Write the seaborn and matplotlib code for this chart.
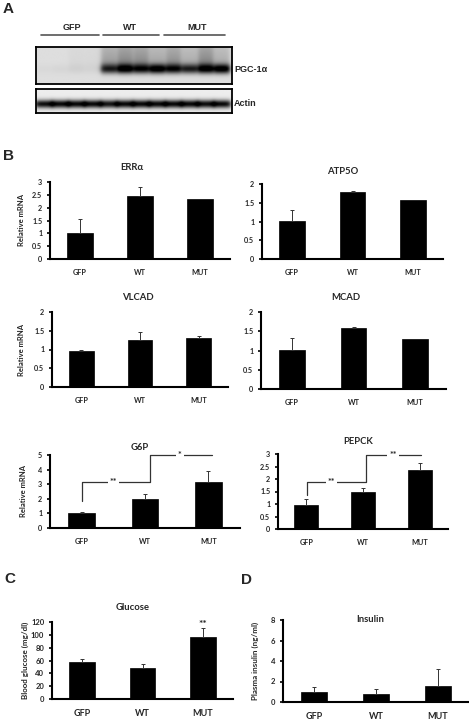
import numpy as np
import pandas as pd
import matplotlib
matplotlib.use("Agg")
import matplotlib.pyplot as plt
import seaborn as sns

W, H = 469, 720

# ---------------- data ----------------
groups = ["GFP", "WT", "MUT"]

errra_mean = [1.03, 2.47, 2.33]
errra_err = [0.54, 0.33, 0.0]
atp5o_mean = [1.02, 1.80, 1.57]
atp5o_err = [0.28, 0.01, 0.0]
vlcad_mean = [0.96, 1.25, 1.31]
vlcad_err = [0.02, 0.23, 0.05]
mcad_mean = [1.02, 1.59, 1.29]
mcad_err = [0.31, 0.01, 0.0]
g6p_mean = [1.02, 2.00, 3.13]
g6p_err = [0.05, 0.30, 0.77]
pepck_mean = [0.95, 1.47, 2.35]
pepck_err = [0.27, 0.18, 0.28]
glucose_mean = [57, 48, 97]
glucose_err = [5, 7, 13]
insulin_mean = [0.95, 0.80, 1.60]
insulin_err = [0.50, 0.45, 1.60]

# western blot lane intensities (4 GFP, 4 WT, 4 MUT lanes)
pgc_band = [0.02, 0.03, 0.05, 0.04, 0.75, 0.95, 0.85, 0.95, 0.85, 0.75, 0.92, 0.95]
pgc_smear = [0.0, 0.0, 0.03, 0.03, 0.30, 0.40, 0.38, 0.25, 0.35, 0.22, 0.40, 0.22]
actin_band = [0.88, 0.90, 0.90, 0.90, 0.85, 0.90, 0.90, 0.90, 0.90, 0.90, 0.88, 0.90]

# ---------------- style ----------------
sns.set_theme(style="white")
plt.rcParams["font.family"] = ["Lato", "DejaVu Sans"]
ARIAL = ["Liberation Sans", "DejaVu Sans"]

fig = plt.figure(figsize=(W / 100, H / 100), dpi=100)


def px_axes(x0, x1, y0, y1):
    return fig.add_axes([x0 / W, 1 - y1 / H, (x1 - x0) / W, (y1 - y0) / H])


def bar_panel(ax, means, errs, ymax, yticks, yticklabels, tfs=5.2, xfs=5.2):
    df = pd.DataFrame({"group": groups, "value": means})
    sns.barplot(data=df, x="group", y="value", color="black", saturation=1,
                width=0.42, errorbar=None, ax=ax, edgecolor="black", linewidth=0.5)
    for bar, e in zip(ax.patches, errs):
        if e <= 0:
            continue
        x = bar.get_x() + bar.get_width() / 2
        h = bar.get_height()
        ax.errorbar(x, h, yerr=[[0], [e]], fmt="none", ecolor="#333333",
                    elinewidth=0.7, capsize=1.6, capthick=0.7, zorder=3)
    ax.set_xlim(-0.5, 2.5)
    ax.set_ylim(0, ymax)
    ax.set_xlabel("")
    ax.set_ylabel("")
    ax.spines[["top", "right"]].set_visible(False)
    for s in ["left", "bottom"]:
        ax.spines[s].set_linewidth(1.5)
        ax.spines[s].set_color("black")
    ax.set_yticks(yticks)
    ax.set_yticklabels(yticklabels, fontsize=tfs, fontweight="bold")
    ax.set_xticks([0, 1, 2])
    ax.set_xticklabels(groups, fontsize=xfs, fontweight="bold")
    ax.set_xticks([-0.5, 0.5, 1.5, 2.5], minor=True)
    ax.tick_params(axis="x", which="major", length=0, pad=7)
    ax.tick_params(axis="x", which="minor", length=2.5, width=1.2, direction="out", color="black")
    ax.tick_params(axis="y", length=2.5, width=1.2, direction="out", color="black", pad=3,
                   left=True)
    ax.set_facecolor("white")


def fmt(v):
    return ("%g" % v)


# ---------------- panel A: western blot ----------------
lane_x = [44 + 16.2 * i for i in range(12)]


def blot_image(x0, x1, y0, y1, band_y, band_sig, bands, smear=None, bg=0.10, half=7.8):
    nx, ny = 400, 120
    xs = np.linspace(x0, x1, nx)
    ys = np.linspace(y0, y1, ny)
    X, Y = np.meshgrid(xs, ys)
    img = np.full_like(X, bg)
    for i, lx in enumerate(lane_x):
        hprof = 1 / (1 + np.exp((np.abs(X - lx) - half) / 1.3))
        img += bands[i] * hprof * np.exp(-((Y - band_y) ** 2) / (2 * band_sig ** 2))
        if smear is not None:
            sm = 1 / (1 + np.exp((Y - (band_y - 3)) / 1.5)) * (0.55 + 0.45 * (Y - y0) / (band_y - y0))
            img += smear[i] * hprof * np.clip(sm, 0, 1)
    return np.clip(img, 0, 1)


def blot_axes(x0, x1, y0, y1, img):
    ax = px_axes(x0, x1, y0, y1)
    ax.imshow(img, cmap="gray_r", vmin=0, vmax=1, aspect="auto",
              extent=[x0, x1, y1, y0], interpolation="bilinear")
    ax.set_xticks([])
    ax.set_yticks([])
    for s in ax.spines.values():
        s.set_visible(True)
        s.set_linewidth(1.3)
        s.set_color("black")
    return ax


blot_axes(36, 232, 47, 84, blot_image(36, 232, 47, 84, 69, 3.4, pgc_band, pgc_smear, bg=0.13))
blot_axes(36, 232, 89, 113, blot_image(36, 232, 89, 113, 104, 2.9, actin_band, None, bg=0.07, half=8.6))

# ---------------- panel B ----------------
ax = px_axes(50, 230, 182, 259)
bar_panel(ax, errra_mean, errra_err, 3, np.arange(0, 3.01, 0.5),
          [fmt(v) for v in np.arange(0, 3.01, 0.5)])
ax = px_axes(262, 443, 184, 259)
bar_panel(ax, atp5o_mean, atp5o_err, 2, np.arange(0, 2.01, 0.5),
          [fmt(v) for v in np.arange(0, 2.01, 0.5)])
ax = px_axes(52, 228, 312, 387)
bar_panel(ax, vlcad_mean, vlcad_err, 2, np.arange(0, 2.01, 0.5),
          [fmt(v) for v in np.arange(0, 2.01, 0.5)])
ax = px_axes(261, 446, 312, 389)
bar_panel(ax, mcad_mean, mcad_err, 2, np.arange(0, 2.01, 0.5),
          [fmt(v) for v in np.arange(0, 2.01, 0.5)])

ax_g6p = px_axes(50, 240, 455, 528)
bar_panel(ax_g6p, g6p_mean, g6p_err, 5, np.arange(0, 5.01, 1),
          [fmt(v) for v in np.arange(0, 5.01, 1)])
ax_pep = px_axes(278, 448, 454, 529)
bar_panel(ax_pep, pepck_mean, pepck_err, 3, np.arange(0, 3.01, 0.5),
          [fmt(v) for v in np.arange(0, 3.01, 0.5)])

star_box = dict(boxstyle="square,pad=0.2", fc="white", ec="none")

ax_g6p.plot([0, 0, 1.08, 1.08, 2.06], [1.86, 3.18, 3.18, 5.0, 5.0],
            color="#333333", lw=0.9, clip_on=False, zorder=4)
ax_g6p.text(0.5, 3.12, "**", ha="center", va="center", fontsize=6.5, fontweight="bold",
            zorder=5, bbox=star_box)
ax_g6p.text(1.55, 4.94, "*", ha="center", va="center", fontsize=6.5, fontweight="bold",
            zorder=5, clip_on=False, bbox=star_box)

ax_pep.plot([0.02, 0.02, 1.05, 1.05, 2.03], [1.37, 1.90, 1.90, 2.96, 2.96],
            color="#333333", lw=0.9, clip_on=False, zorder=4)
ax_pep.text(0.44, 1.86, "**", ha="center", va="center", fontsize=6.5, fontweight="bold",
            zorder=5, bbox=star_box)
ax_pep.text(1.53, 2.92, "**", ha="center", va="center", fontsize=6.5, fontweight="bold",
            zorder=5, clip_on=False, bbox=star_box)

# ---------------- panels C, D ----------------
ax_glu = px_axes(52, 233, 622, 699)
bar_panel(ax_glu, glucose_mean, glucose_err, 120, np.arange(0, 121, 20),
          [fmt(v) for v in np.arange(0, 121, 20)], tfs=5.5, xfs=6.5)
ax_glu.text(2, 116, "**", ha="center", va="center", fontsize=7.5, fontweight="bold", clip_on=False)

ax_ins = px_axes(283, 469, 620, 702)
bar_panel(ax_ins, insulin_mean, insulin_err, 8, np.arange(0, 8.01, 2),
          [fmt(v) for v in np.arange(0, 8.01, 2)], tfs=5.5, xfs=6.5)

# ---------------- overlay texts ----------------
ov = fig.add_axes([0, 0, 1, 1])
ov.set_xlim(0, W)
ov.set_ylim(H, 0)
ov.axis("off")

for lab, x, y in [("A", 8, 9), ("B", 9, 156), ("C", 10, 579), ("D", 246, 580)]:
    ov.text(x, y, lab, ha="center", va="center", fontsize=11, fontweight="bold", family=ARIAL)

for lab, x in [("GFP", 72), ("WT", 130), ("MUT", 197)]:
    ov.text(x, 27, lab, ha="center", va="center", fontsize=6.5, fontweight="bold", family=ARIAL)
for x0, x1 in [(41, 99), (103, 159), (164, 225)]:
    ov.plot([x0, x1], [35, 35], color="#555555", lw=1.2)
ov.text(234, 70, "PGC-1α", ha="left", va="center", fontsize=6.5, fontweight="bold", family=ARIAL)
ov.text(234, 104, "Actin", ha="left", va="center", fontsize=6.5, fontweight="bold", family=ARIAL)

for lab, x, y in [("ERRα", 132, 168), ("ATP5O", 343, 172), ("VLCAD", 138, 297),
                  ("MCAD", 346, 298), ("G6P", 140, 447), ("PEPCK", 358, 441),
                  ("Glucose", 133, 607), ("Insulin", 370, 619)]:
    ov.text(x, y, lab, ha="center", va="center", fontsize=6.8, fontweight="bold")

for lab, x, y, fs in [("Relative mRNA", 22, 220, 5.5), ("Relative mRNA", 22, 350, 5.5),
                      ("Relative mRNA", 24, 491, 5.5),
                      ("Blood glucose (mg/dl)", 25, 660, 5.8),
                      ("Plasma insulin (ng/ml)", 255, 661, 5.8)]:
    ov.text(x, y, lab, ha="center", va="center", fontsize=fs, fontweight="bold", rotation=90)

fig.savefig("out.png", dpi=100, facecolor="white")
